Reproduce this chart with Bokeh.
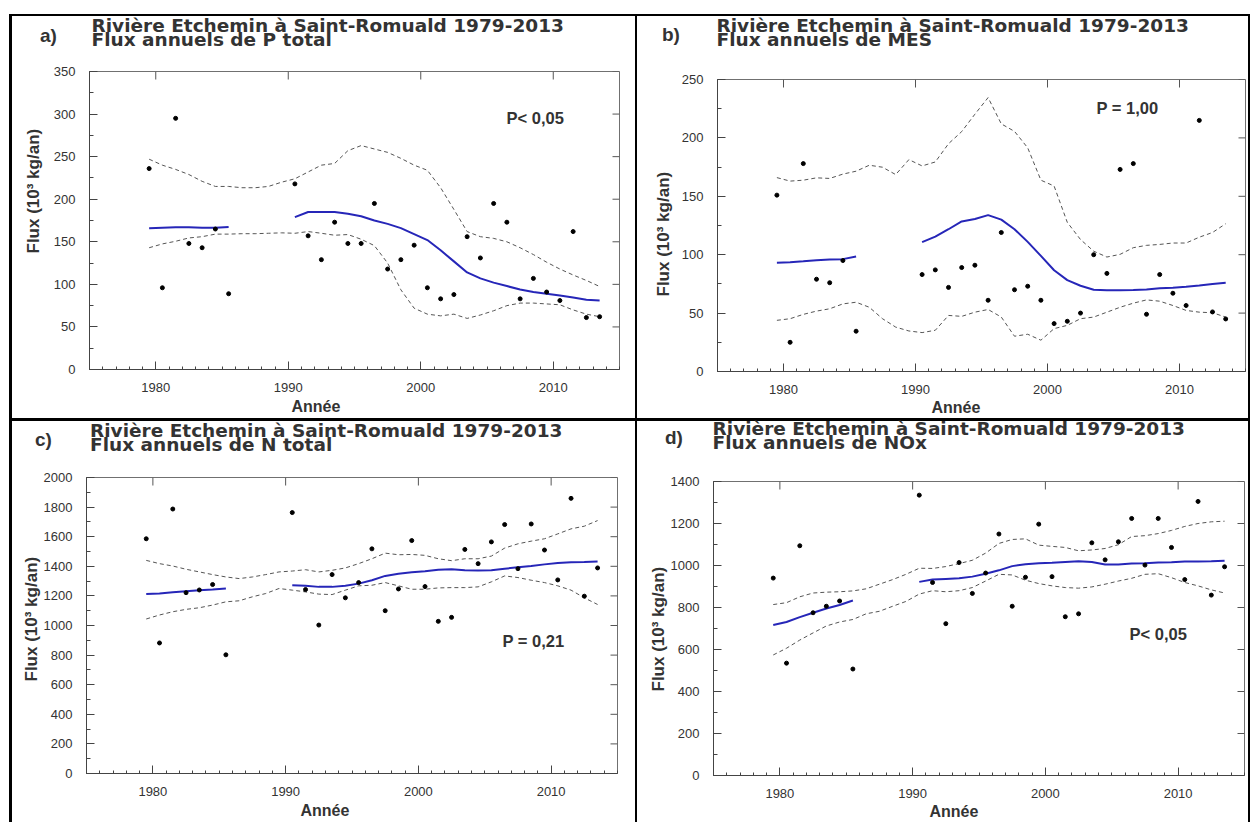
import math
from bokeh.plotting import figure
from bokeh.models import (Range1d, SingleIntervalTicker, Label, Title, GridBox, Spacer, Div)
from bokeh.layouts import column, row
from bokeh.embed import file_html
from bokeh.resources import INLINE

# yearly values are drawn at mid-year
years_all = [1979.5 + i for i in range(35)]   # 1979 .. 2013
years_early = years_all[:7]                   # 1979 .. 1985
years_late = years_all[11:]                   # 1990 .. 2013

x_major = [1980, 1990, 2000, 2010]

station = "Rivière Etchemin à Saint-Romuald 1979-2013"

# a) P total
p_pts_early = [236, 96, 295, 148, 143, 165, 89]
p_pts_late = [218, 157, 129, 173, 148, 148, 195, 118, 129, 146,
              96, 83, 88, 156, 131, 195, 173, 83, 107, 91,
              81, 162, 61, 62]
p_trend_early = [166, 166.5, 167, 167, 166.5, 166.5, 167.5]
p_trend_late = [179, 185, 185, 185, 183, 180, 175, 171, 166, 159,
                152, 140, 127, 114, 107, 102, 98, 94, 91, 89,
                87, 84.5, 82, 81]
p_upper = [247, 240, 235, 229, 221, 215, 215, 213.5, 213.5, 215,
           220, 224, 232, 240, 242, 257, 263, 259, 255, 248,
           240, 234, 213.5, 188, 162, 156, 154, 150, 143, 135,
           126, 118, 111, 104.6, 97.5]
p_lower = [143, 147.5, 150.6, 154.5, 156, 159, 159, 159.5, 159.5, 160,
           160.5, 160, 162, 160, 157.7, 158.5, 153, 145.5, 125, 93.6,
           72, 65, 63, 65, 60, 64, 69, 75, 78, 78,
           77, 76, 70, 65, 62]
p_yticks = [0, 50, 100, 150, 200, 250, 300, 350]

# b) MES
mes_pts_early = [151, 25, 178, 79, 76, 95, 34.5]
mes_pts_late = [83, 87, 72, 89, 91, 61, 119, 70, 73, 61,
                41, 43, 50, 100, 84, 173, 178, 49, 83, 67,
                56.5, 215, 51, 45]
mes_trend_early = [93.2, 93.6, 94.4, 95.3, 95.8, 96.2, 98.5]
mes_trend_late = [110.7, 115.5, 121.8, 128.5, 130.5, 133.9, 130, 121.8, 111, 99,
                  86.7, 78.2, 73.4, 70, 69.5, 69.5, 69.8, 70.3, 71.2, 71.8,
                  72.6, 73.7, 74.9, 76]
mes_upper = [166, 163, 163.8, 165.8, 165.3, 169, 171.5, 176.6, 174.9, 168.6,
             181.4, 176, 179.4, 195, 205.4, 220.3, 234.5, 212, 205.6, 191.5,
             163.8, 158.8, 127.7, 113, 103, 98, 100.3, 106, 108, 108.8,
             110, 110, 115, 119, 126.5]
mes_lower = [43.8, 45.2, 48.9, 51.7, 53.7, 57.9, 59.3, 55, 45.2, 38,
             34.7, 33.3, 35.3, 48, 47.2, 50.8, 53.1, 46.6, 30.2, 31.9,
             26.8, 36.7, 39.5, 45.2, 46.6, 50.8, 55, 58.5, 61.3, 60.2,
             56.5, 52.3, 50.8, 50.3, 46.6]
mes_yticks = [0, 50, 100, 150, 200, 250]

# c) N total
n_pts_early = [1586, 882, 1787, 1222, 1240, 1277, 802]
n_pts_late = [1763, 1243, 1003, 1344, 1187, 1290, 1518, 1100, 1247, 1574,
              1263, 1028, 1055, 1514, 1418, 1565, 1682, 1384, 1686, 1510,
              1308, 1859, 1198, 1389]
n_trend_early = [1212, 1216, 1225, 1232, 1238, 1243, 1250]
n_trend_late = [1272, 1268, 1261, 1261, 1268, 1283, 1306, 1335, 1350, 1359,
                1366, 1377, 1380, 1373, 1371, 1373, 1384, 1393, 1402, 1413,
                1422, 1427, 1429, 1433]
n_upper = [1440, 1418, 1402, 1380, 1362, 1344, 1328, 1317, 1328, 1344,
           1362, 1368, 1377, 1362, 1373, 1389, 1418, 1451, 1489, 1478,
           1480, 1474, 1451, 1438, 1451, 1451, 1469, 1523, 1552, 1570,
           1586, 1619, 1653, 1671, 1709]
n_lower = [1044, 1071, 1093, 1109, 1120, 1138, 1160, 1167, 1194, 1216,
           1250, 1239, 1227, 1212, 1209, 1239, 1268, 1272, 1290, 1268,
           1245, 1245, 1254, 1256, 1256, 1261, 1295, 1335, 1324, 1306,
           1290, 1268, 1239, 1187, 1142]
n_yticks = [0, 200, 400, 600, 800, 1000, 1200, 1400, 1600, 1800, 2000]

# d) NOx
nox_pts_early = [940, 535, 1094, 775, 806, 831, 507]
nox_pts_late = [1335, 919, 723, 1014, 867, 964, 1150, 806, 944, 1197,
                947, 756, 770, 1108, 1027, 1113, 1224, 1002, 1224, 1086,
                933, 1305, 859, 994]
nox_trend_early = [717, 731, 754, 775, 795, 812, 833]
nox_trend_late = [922, 933, 936, 939, 947, 961, 977, 997, 1006, 1011,
                  1013, 1017, 1020, 1017, 1005, 1005, 1009, 1011, 1014, 1016,
                  1019, 1019, 1020, 1023]
nox_upper = [814, 823, 851, 869, 873, 875, 879, 889, 911, 933,
             958, 987, 986, 995, 1009, 1025, 1059, 1105, 1124, 1127,
             1097, 1091, 1086, 1070, 1074, 1081, 1099, 1138, 1142, 1152,
             1167, 1186, 1200, 1208, 1211]
nox_lower = [574, 606, 645, 679, 712, 731, 743, 770, 782, 806,
             829, 864, 880, 875, 880, 895, 926, 958, 955, 930,
             914, 903, 895, 892, 898, 911, 926, 939, 958, 961,
             942, 919, 903, 884, 869]
nox_yticks = [0, 200, 400, 600, 800, 1000, 1200, 1400]

BLUE = "#2626b8"
TXT = "#333333"
SANS = "Liberation Sans"
HEAD_H = 40


def header(tag, subject, w, pos):
    # panel letter and the two-line title, placed in px inside the cell
    def span(text, xy, font, size, lh):
        return ('<span style="position:absolute;left:%spx;top:%spx;white-space:nowrap;'
                'font-family:\'%s\';font-size:%spx;font-weight:bold;line-height:%spx;">%s</span>'
                % (xy[0], xy[1], font, size, lh, text))
    html = ('<div style="position:relative;width:%dpx;height:%dpx;color:%s;">' % (w, HEAD_H, TXT)
            + span(tag, pos["tag"], SANS, 19, 19)
            + span(station + "<br>Flux annuels de " + subject, pos["title"], "DejaVu Sans", 18.5, 14)
            + '</div>')
    return Div(text=html, width=w, height=HEAD_H, margin=0,
               styles={"background-color": "white"})


def make_panel(tag, subject, p_text, y_max, y_step, y_ticks, pts, trend, band, geo, pos):
    w, h, left, right, top, bottom = geo
    p = figure(width=w, height=h - HEAD_H, x_range=Range1d(1975, 2015), y_range=Range1d(0, y_max),
               output_backend="svg", toolbar_location=None, tools="",
               min_border_left=left, min_border_right=right,
               min_border_top=top, min_border_bottom=bottom)
    p.xgrid.visible = False
    p.ygrid.visible = False
    p.outline_line_color = "#707070"

    p.xaxis.ticker = SingleIntervalTicker(interval=10, num_minor_ticks=10)
    p.yaxis.ticker = SingleIntervalTicker(interval=y_step, num_minor_ticks=2)
    for ax in (p.xaxis, p.yaxis):
        ax.major_tick_in = 8
        ax.major_tick_out = 0
        ax.minor_tick_in = 4
        ax.minor_tick_out = 0
        ax.axis_line_color = "#444444"
        ax.major_tick_line_color = "#444444"
        ax.minor_tick_line_color = "#444444"
        ax.major_label_text_font = SANS
        ax.major_label_text_font_size = "13px"
        ax.major_label_text_color = TXT
    p.xaxis.minor_tick_in = 3
    p.xaxis.major_label_standoff = 13
    p.yaxis.major_label_standoff = 14

    # inner ticks on the top and right edges of the frame
    p.ray(x_major, [y_max] * len(x_major), length=8, length_units="screen",
          angle=-math.pi / 2, color="#555555", line_width=1)
    p.ray([2015] * len(y_ticks), y_ticks, length=7, length_units="screen",
          angle=math.pi, color="#555555", line_width=1)

    upper, lower = band
    p.line(years_all, upper, color="#555555", line_width=1, line_dash="4 3")
    p.line(years_all, lower, color="#555555", line_width=1, line_dash="4 3")
    p.line(years_early, trend[0], color=BLUE, line_width=2)
    p.line(years_late, trend[1], color=BLUE, line_width=2)
    p.scatter(years_early + years_late, pts[0] + pts[1], size=4, color="black")

    p.add_layout(Label(x=pos["pval"][0], y=pos["pval"][1], x_units="screen", y_units="screen",
                       text=p_text, text_font=SANS, text_font_size="16.5px",
                       text_font_style="bold", text_color=TXT))
    p.add_layout(Title(text="Flux (10³ kg/an)", align="left", offset=pos["ylab"][0],
                       standoff=pos["ylab"][1], text_font=SANS, text_font_size="17px",
                       text_font_style="bold", text_color=TXT), "left")
    p.add_layout(Title(text="Année", align="left", offset=pos["xlab"][0],
                       standoff=pos["xlab"][1], text_font=SANS, text_font_size="16px",
                       text_font_style="bold", text_color=TXT), "below")

    cell = column(header(tag, subject, w, pos), p, styles={"background-color": "white"})
    return cell


ca = make_panel("a)", "P total", "P< 0,05", 350, 50, p_yticks,
                (p_pts_early, p_pts_late), (p_trend_early, p_trend_late), (p_upper, p_lower),
                (623, 402, 77, 16, 15, 49),
                {"tag": (28, 9.5), "title": (79.5, 2.5),
                 "ylab": (116, 15), "xlab": (202, 1.5), "pval": (417, 243)})
cb = make_panel("b)", "MES", "P = 1,00", 250, 50, mes_yticks,
                (mes_pts_early, mes_pts_late), (mes_trend_early, mes_trend_late), (mes_upper, mes_lower),
                (611, 402, 80, 3, 23, 47),
                {"tag": (25, 8.5), "title": (79.5, 2.5),
                 "ylab": (75, 12), "xlab": (214, 0), "pval": (379, 255)})
cc = make_panel("c)", "N total", "P = 0,21", 2000, 200, n_yticks,
                (n_pts_early, n_pts_late), (n_trend_early, n_trend_late), (n_upper, n_lower),
                (623, 401, 74, 18, 16, 49),
                {"tag": (23, 9), "title": (78, 3.3),
                 "ylab": (92, 0), "xlab": (214, 1.5), "pval": (416, 124)})
cd = make_panel("d)", "NOx", "P< 0,05", 1400, 200, nox_yticks,
                (nox_pts_early, nox_pts_late), (nox_trend_early, nox_trend_late), (nox_upper, nox_lower),
                (611, 401, 76, 4, 20, 47),
                {"tag": (28, 7), "title": (75.6, 1.3),
                 "ylab": (84, 0), "xlab": (216, 0), "pval": (416, 133)})

grid = GridBox(children=[(ca, 0, 0), (cb, 0, 1), (cc, 1, 0), (cd, 1, 1)], spacing=(3, 2))
grid.styles = {"background-color": "black", "padding": "2px 2px 0px 3px"}

page = column(Spacer(height=14), row(Spacer(width=9), grid))

open("out.html", "w").write(file_html(page, INLINE))
